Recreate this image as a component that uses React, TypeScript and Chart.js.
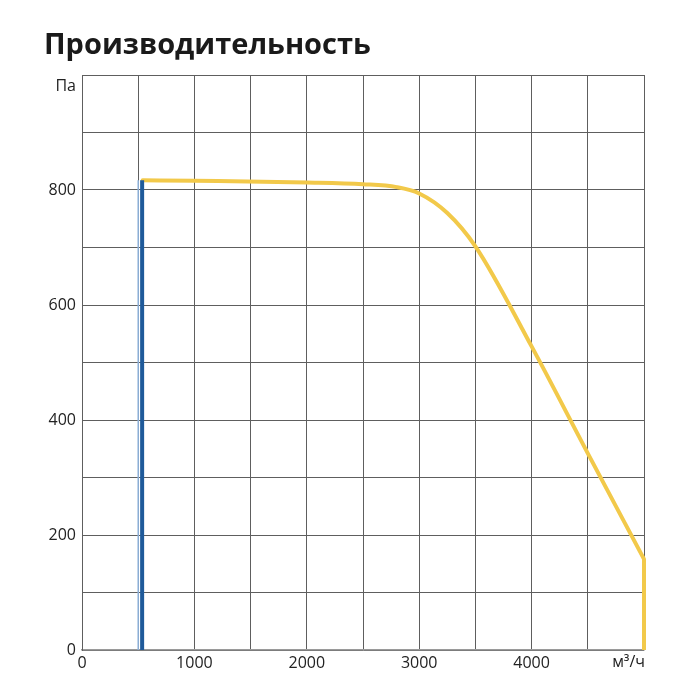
import React, { useEffect, useRef } from "react";
import { Chart, registerables } from "chart.js";

Chart.register(...registerables);

const chartTitle = "Производительность";
const yUnit = "Па";
const xUnit = "м³/ч";

const curveFlow = [540, 1000, 2000, 2500, 2800, 3000, 3250, 3500, 4000, 4500, 5000];
const curvePressure = [817, 816, 813, 810, 805, 794, 760, 702, 528, 342, 158];
const dropFlow = [5000, 5000];
const dropPressure = [158, 0];
const minFlowThick = [535, 535];
const minFlowThin = [500, 500];
const minFlowPressure = [0, 817];

const FONT = "'Open Sans', 'Noto Sans', sans-serif";

const textPlugin = {
  id: "texts",
  afterDraw(chart: any) {
    const ctx = chart.ctx;
    const area = chart.chartArea;
    ctx.save();
    ctx.fillStyle = "#1a1a1a";
    ctx.font = `bold 29px ${FONT}`;
    ctx.textAlign = "left";
    ctx.textBaseline = "alphabetic";
    ctx.fillText(chartTitle, 44, 54);
    ctx.font = `16px ${FONT}`;
    ctx.fillStyle = "#222";
    ctx.textAlign = "right";
    ctx.textBaseline = "middle";
    ctx.fillText(yUnit, area.left - 6, area.top + 11);
    ctx.textAlign = "right";
    ctx.textBaseline = "top";
    ctx.fillText(xUnit, area.right + 1, area.bottom + 4);
    ctx.restore();
  },
};

export default function App() {
  const ref = useRef<HTMLCanvasElement | null>(null);
  useEffect(() => {
    if (!ref.current) return;
    const pts = (xs: number[], ys: number[]) => xs.map((x, i) => ({ x, y: ys[i] }));
    const chart = new Chart(ref.current, {
      type: "line",
      data: {
        datasets: [
          {
            data: pts(minFlowThin, minFlowPressure),
            borderColor: "#8fb2da",
            borderWidth: 1.5,
            pointRadius: 0,
          },
          {
            data: pts(minFlowThick, minFlowPressure),
            borderColor: "#1f5a9a",
            borderWidth: 4,
            pointRadius: 0,
            borderCapStyle: "butt",
          },
          {
            data: pts(curveFlow, curvePressure),
            borderColor: "#f2c94a",
            borderWidth: 4,
            pointRadius: 0,
            cubicInterpolationMode: "monotone",
            borderCapStyle: "round",
            clip: false,
          },
          {
            data: pts(dropFlow, dropPressure),
            borderColor: "#f2c94a",
            borderWidth: 4,
            pointRadius: 0,
            clip: false,
          },
        ],
      },
      options: {
        animation: false,
        responsive: false,
        layout: { padding: { top: 75, right: 56, left: 0, bottom: 0 } },
        plugins: { legend: { display: false }, tooltip: { enabled: false }, title: { display: false } },
        scales: {
          x: {
            type: "linear",
            min: 0,
            max: 5000,
            afterFit: (s: any) => { s.height = 50; },
            grid: { color: "#5e5e5e", lineWidth: 1, drawTicks: false },
            border: { display: true, color: "#9a9a9a", width: 1.5 },
            ticks: {
              stepSize: 500,
              autoSkip: false,
              maxRotation: 0,
              padding: 4,
              color: "#222",
              font: { family: FONT, size: 16 },
              callback: (v: any) => (v % 1000 === 0 && v < 5000 ? String(v) : ""),
            },
          },
          y: {
            type: "linear",
            min: 0,
            max: 1000,
            afterFit: (s: any) => { s.width = 82; },
            grid: { color: "#5e5e5e", lineWidth: 1, drawTicks: false },
            border: { display: true, color: "#5e5e5e", width: 1 },
            ticks: {
              stepSize: 100,
              autoSkip: false,
              padding: 6,
              color: "#222",
              font: { family: FONT, size: 16 },
              callback: (v: any) => (v % 200 === 0 && v < 1000 ? String(v) : ""),
            },
          },
        },
      },
      plugins: [textPlugin],
    } as any);
    return () => chart.destroy();
  }, []);
  return (
    <div style={{ position: "absolute", left: 0, top: 0, width: 700, height: 700, background: "#fff" }}>
      <canvas ref={ref} width={700} height={700} />
    </div>
  );
}
